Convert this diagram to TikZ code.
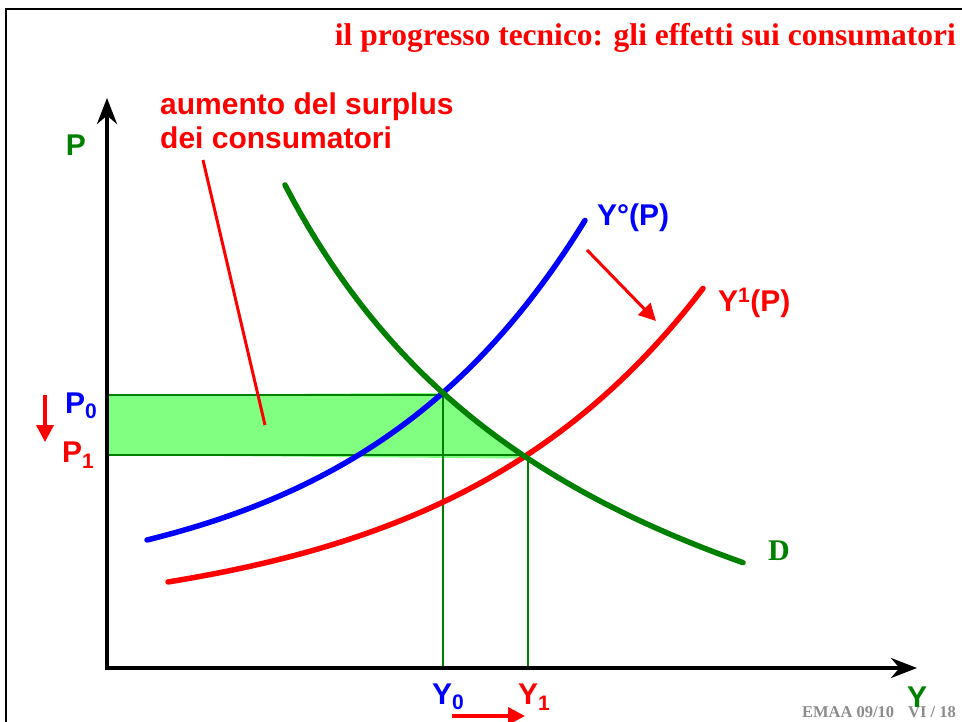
\documentclass[tikz,border=0pt]{standalone}
\usepackage{fontspec}
\setmainfont{Liberation Serif}
\newfontfamily\arialfont{Liberation Sans}
\usetikzlibrary{arrows.meta,positioning,calc}
\definecolor{dkgreen}{RGB}{0,128,0}
\definecolor{ltgreen}{RGB}{128,255,128}
\definecolor{footgray}{RGB}{140,140,140}
\newcommand{\lowsub}[1]{\raisebox{-0.35ex}{\fontsize{21}{22}\selectfont #1}}
\tikzset{
  lbl/.style={font=\arialfont\bfseries\fontsize{30}{34}\selectfont, inner sep=0pt},
  curve/.style={line width=5.5pt, line cap=round},
  shiftarrow/.style={red, line width=3.5pt, -{Triangle[length=17pt,width=17pt]}},
  guide/.style={dkgreen, line width=1.3pt}
}

\begin{document}
\begin{tikzpicture}[x=1pt, y=-1pt]
    \useasboundingbox (0,0) rectangle (962,722);
    \draw[line width=2pt] (6,722) -- (6,9) -- (962,9);

    \coordinate (o) at (107,668);
    \coordinate (ytop) at (107,98);
    \coordinate (xend) at (917,668);
    \coordinate (e0) at (443,395);
    \coordinate (e1) at (528,455);
    \coordinate (p0) at (107,395);
    \coordinate (p1) at (107,455);
    \coordinate (y0) at (443,668);
    \coordinate (y1) at (528,668);

    \fill[ltgreen] (p0) -- plot[domain=443:528, samples=20] ({\x}, {847.1-228.42/((\x+60)/1000)}) -- (p1) -- cycle;
    \draw[guide] (p0) -- (e0) -- (y0);
    \draw[guide] (p1) -- (e1) -- (y1);

    \draw[curve, blue] plot[domain=147:585, samples=60] ({\x}, {597.2-30.4*exp(0.0043*\x)});
    \draw[curve, red] plot[domain=168:703, samples=60] ({\x}, {623.4-21.5*exp(0.0039*\x)});
    \draw[curve, dkgreen] plot[domain=285:743, samples=60] ({\x}, {847.1-228.42/((\x+60)/1000)});

    \draw[line width=4pt, {Stealth[length=26pt,width=20pt]}-{Stealth[length=26pt,width=20pt]}] (ytop) -- (o) -- (xend);

    \node[anchor=east, red, font=\bfseries\fontsize{31.5}{36}\selectfont, inner sep=0pt] (title) at (956,38) {il progresso tecnico: gli effetti sui consumatori};

    \node[lbl, red, align=left, anchor=north west] (note) at (160,93) {aumento del surplus\\dei consumatori};
    \coordinate (tag) at (203,160);
    \coordinate (surplus) at (265,425);
    \draw[red, line width=3pt] (tag) -- (surplus);

    \node[lbl, dkgreen] (P) at (76,145) {P};
    \node[lbl, blue] (P0) at (81,406) {P\lowsub{0}};
    \node[lbl, red] (P1) at (78,455) {P\lowsub{1}};
    \node[lbl, blue, anchor=west] (Yzero) at (597,218) {Y°(P)};
    \node[lbl, red, anchor=west] (Yone) at (718,303) {Y\textsuperscript{1}(P)};
    \node[dkgreen, font=\bfseries\fontsize{30}{34}\selectfont, inner sep=0pt] (D) at (779,551) {D};
    \node[lbl, blue] (Y0) at (448,697) {Y\lowsub{0}};
    \node[lbl, red] (Y1) at (534,697) {Y\lowsub{1}};

    \node[anchor=east, footgray, font=\bfseries\fontsize{16.5}{18}\selectfont, inner sep=0pt] (foot) at (956,712) {EMAA 09/10\hspace{14pt}VI / 18};
    \node[lbl, dkgreen] (Y) at (917,697) {Y};

    \coordinate (pa) at (45,395);
    \coordinate (pb) at (45,442);
    \coordinate (ya) at (452,716);
    \coordinate (yb) at (525,716);
    \coordinate (ca) at (587,250);
    \coordinate (cb) at (656,321);
    \draw[shiftarrow] (pa) -- (pb);
    \draw[shiftarrow] (ya) -- (yb);
    \draw[shiftarrow, line width=3pt] (ca) -- (cb);
\end{tikzpicture}
\end{document}
